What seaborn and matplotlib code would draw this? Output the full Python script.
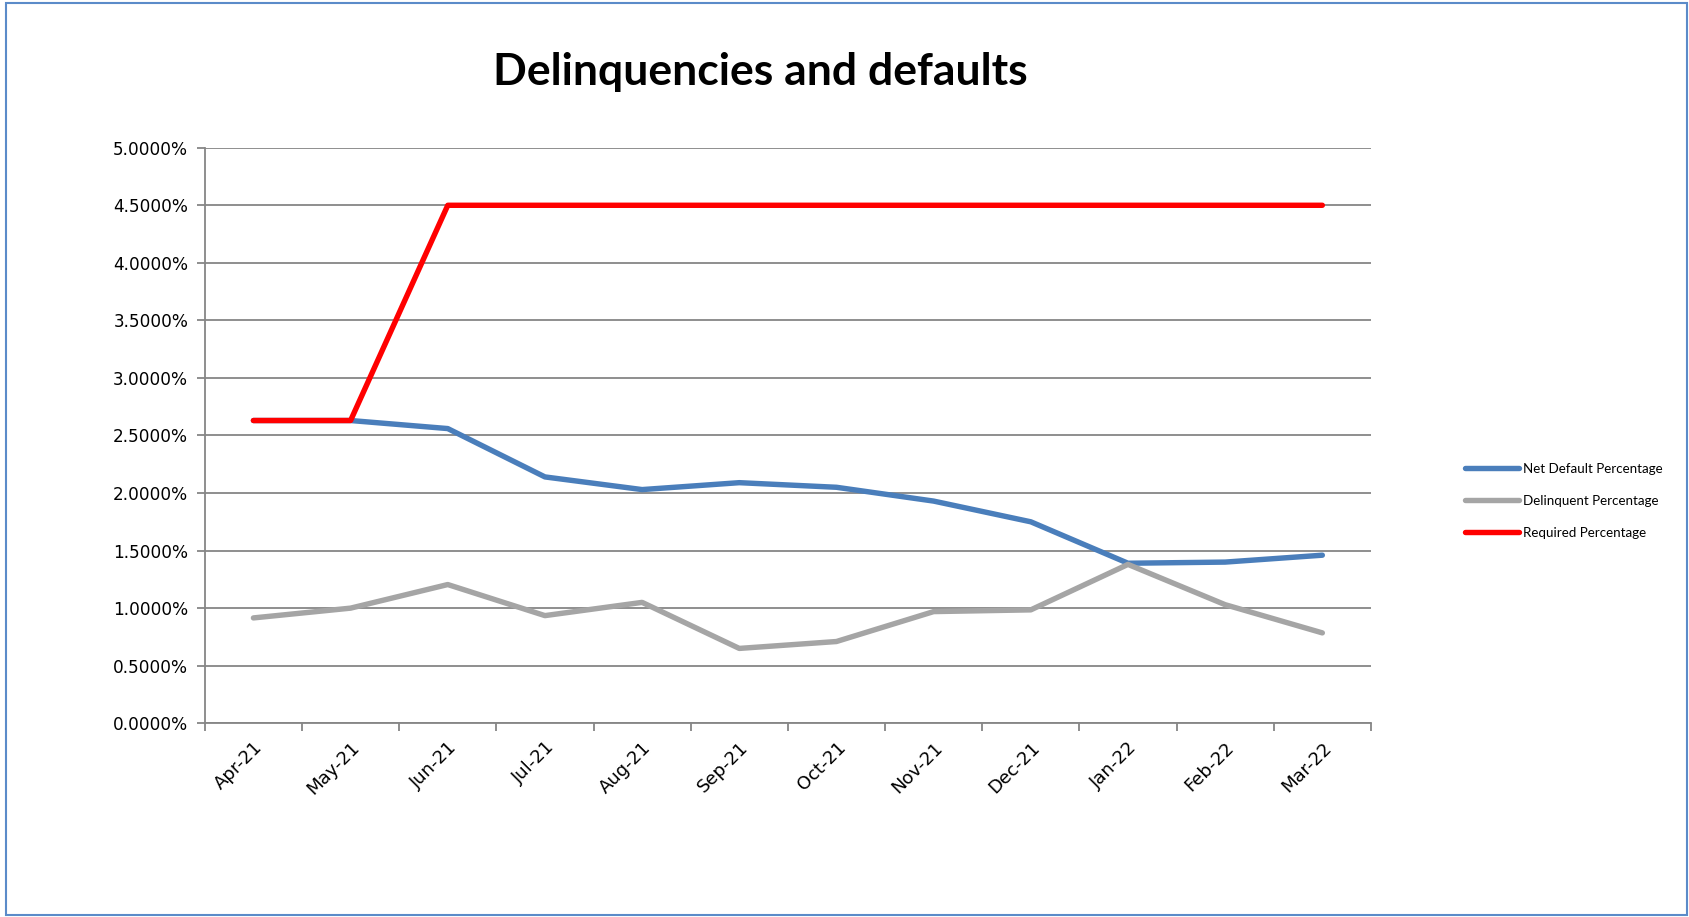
import matplotlib
matplotlib.use("Agg")
import matplotlib.pyplot as plt
from matplotlib.patches import Rectangle
from matplotlib.ticker import FixedLocator, FuncFormatter
import seaborn as sns
import pandas as pd

months = ["Apr-21", "May-21", "Jun-21", "Jul-21", "Aug-21", "Sep-21",
          "Oct-21", "Nov-21", "Dec-21", "Jan-22", "Feb-22", "Mar-22"]
net_default = [2.63, 2.63, 2.56, 2.14, 2.03, 2.09, 2.05, 1.93, 1.75, 1.39, 1.40, 1.46]
delinquent = [0.915, 1.00, 1.205, 0.935, 1.05, 0.65, 0.71, 0.97, 0.985, 1.38, 1.03, 0.785]
required = [2.63, 2.63, 4.5, 4.5, 4.5, 4.5, 4.5, 4.5, 4.5, 4.5, 4.5, 4.5]
series_names = ["Net Default Percentage", "Delinquent Percentage", "Required Percentage"]
y_ticks = [0, 0.5, 1.0, 1.5, 2.0, 2.5, 3.0, 3.5, 4.0, 4.5, 5.0]
title = "Delinquencies and defaults"

rows = []
for name, vals in zip(series_names, [net_default, delinquent, required]):
    for m, v in zip(months, vals):
        rows.append({"Month": m, "Value": v, "Series": name})
df = pd.DataFrame(rows)

sns.set_theme(style="white")
plt.rcParams["font.family"] = ["DejaVu Sans"]
plt.rcParams["text.color"] = "black"

fig = plt.figure(figsize=(16.9, 9.17), dpi=100)
ax = fig.add_axes([0.1212, 0.2113, 0.8112 - 0.1212, 0.8389 - 0.2113])

palette = {"Net Default Percentage": "#4A7EBB",
           "Delinquent Percentage": "#A5A5A5",
           "Required Percentage": "#FF0000"}
sns.lineplot(data=df, x="Month", y="Value", hue="Series", hue_order=series_names,
             palette=palette, sort=False, linewidth=3.9, ax=ax,
             solid_capstyle="round", solid_joinstyle="round")

grid_c = "#868686"
ax.set_xlim(-0.5, len(months) - 0.5)
ax.set_ylim(0, 5.0)
ax.set_yticks(y_ticks)
ax.yaxis.set_major_formatter(FuncFormatter(lambda v, p: f"{v:.4f}%"))
ax.yaxis.grid(True, color=grid_c, linewidth=1.3)
ax.xaxis.grid(False)
ax.set_axisbelow(True)

ax.set_xticks(range(len(months)))
ax.set_xticklabels(months, rotation=45, ha="right", rotation_mode="anchor")
ax.xaxis.set_minor_locator(FixedLocator([i - 0.5 for i in range(len(months) + 1)]))
ax.tick_params(axis="x", which="major", length=0, pad=11, labelsize=13, labelcolor="black")
ax.tick_params(axis="x", which="minor", length=6, width=1.3, color=grid_c, direction="out", bottom=True)
ax.tick_params(axis="y", which="major", length=6, width=1.3, color=grid_c, direction="out",
               left=True, labelsize=12.2, labelcolor="black", pad=6)

for s in ["top", "right"]:
    ax.spines[s].set_visible(False)
for s in ["left", "bottom"]:
    ax.spines[s].set_color(grid_c)
    ax.spines[s].set_linewidth(1.3)

ax.set_xlabel("")
ax.set_ylabel("")

handles, labels = ax.get_legend_handles_labels()
leg = ax.legend(handles, labels, loc="center left", bbox_to_anchor=(0.867, 0.454),
                bbox_transform=fig.transFigure, frameon=False, borderpad=0, borderaxespad=0,
                handlelength=4.0, handletextpad=0.35, labelspacing=1.5,
                prop={"family": "Lato", "size": 9.6})
for t in leg.get_texts():
    t.set_color("black")

fig.text(0.450, 0.922, title, ha="center", va="center", fontsize=32,
         fontweight="bold", family="Lato", color="black")

fig.patches.append(Rectangle((0.0035, 0.002), 0.9945, 0.995, transform=fig.transFigure,
                             fill=False, edgecolor="#5B8BC9", linewidth=1.5))

fig.savefig("out.png", dpi=100, facecolor="white")
